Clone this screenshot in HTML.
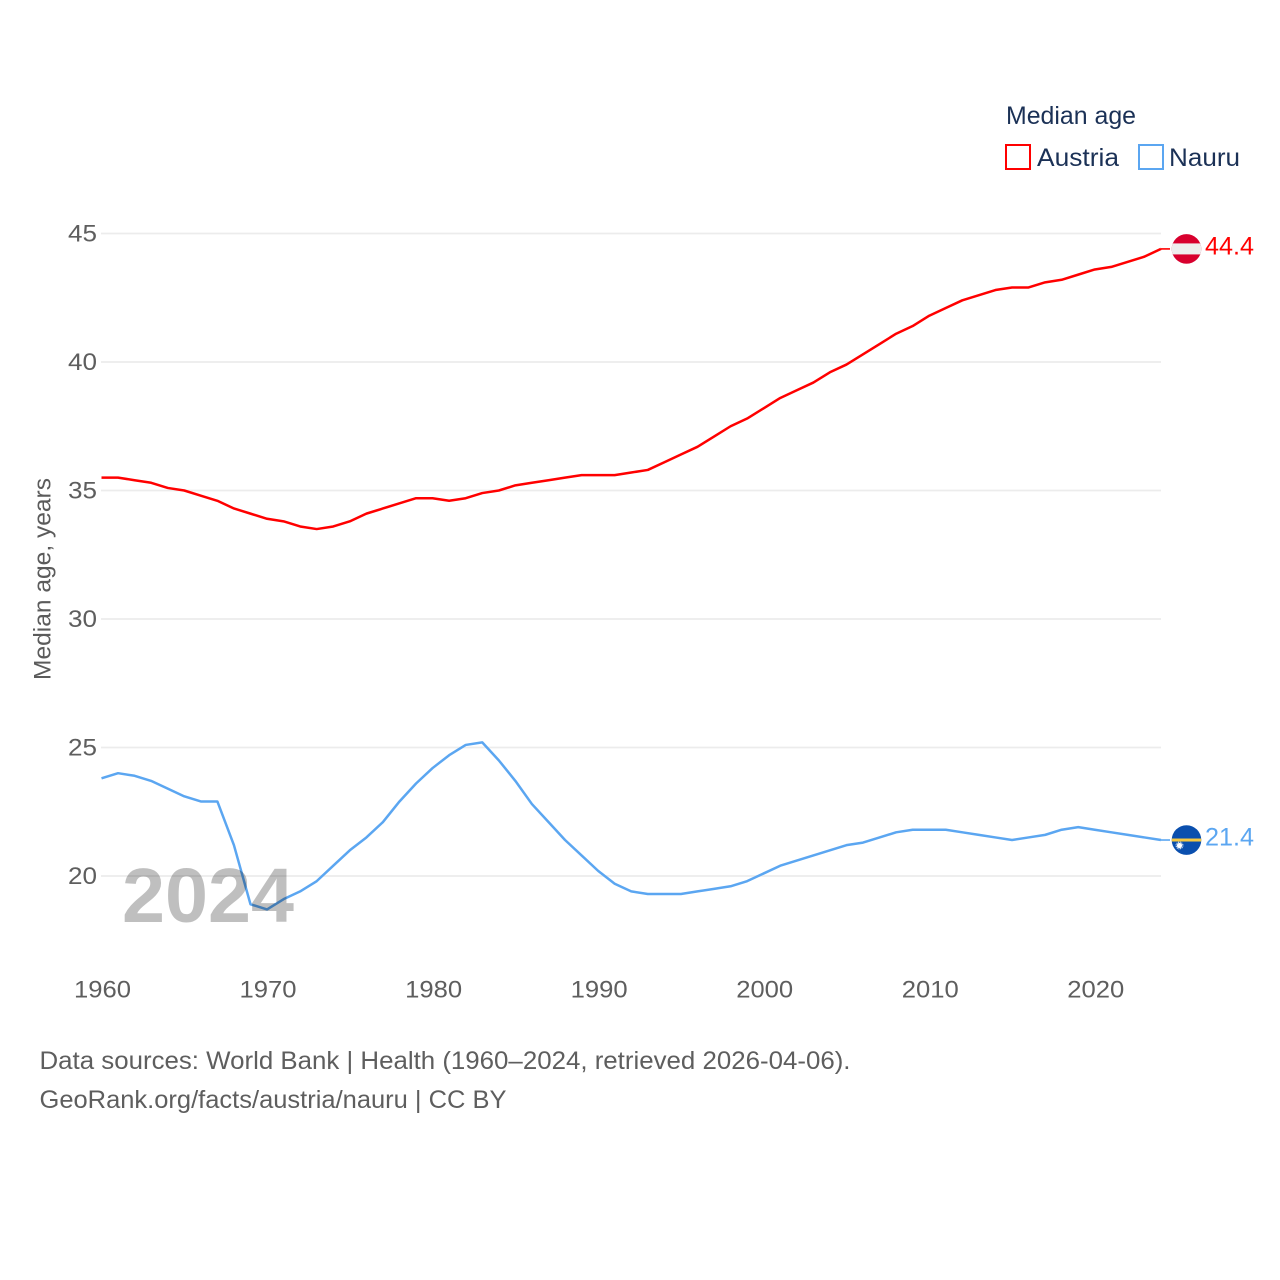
<!DOCTYPE html>
<html lang="en">
<head>
<meta charset="utf-8">
<title>Median age: Austria and Nauru</title>
<style>
html,body{margin:0;padding:0;background:#fff}
svg{display:block}
text{font-family:"Liberation Sans",sans-serif}
</style>
</head>
<body>
<svg id="chart" xmlns="http://www.w3.org/2000/svg" width="1280" height="1280" viewBox="0 0 1280 1280">
  <rect width="1280" height="1280" fill="#fff"/>
  <g id="grid"></g>
  <g id="yticks"></g>
  <g id="xticks"></g>
  <text transform="translate(50.5,680) rotate(-90)" font-size="24" fill="#5b5b5b" textLength="202" lengthAdjust="spacingAndGlyphs">Median age, years</text>
  <g id="series"></g>
  <g id="ends"></g>
  <text x="122" y="922" font-size="77" font-weight="700" fill="#000" fill-opacity="0.25" textLength="172" lengthAdjust="spacingAndGlyphs">2024</text>
  <g>
    <text x="1006" y="124" font-size="25" fill="#1b3156" textLength="130" lengthAdjust="spacingAndGlyphs">Median age</text>
    <rect x="1006" y="145" width="24" height="24" fill="#fff" stroke="#ff0000" stroke-width="2"/>
    <text x="1037" y="166" font-size="25" fill="#1b3156" textLength="82" lengthAdjust="spacingAndGlyphs">Austria</text>
    <rect x="1139" y="145" width="24" height="24" fill="#fff" stroke="#5ba6f1" stroke-width="2"/>
    <text x="1169" y="166" font-size="25" fill="#1b3156" textLength="71" lengthAdjust="spacingAndGlyphs">Nauru</text>
  </g>
  <g>
    <text x="39.5" y="1069" font-size="25" fill="#5e5e5e" textLength="811" lengthAdjust="spacingAndGlyphs">Data sources: World Bank | Health (1960–2024, retrieved 2026-04-06).</text>
    <text x="39.5" y="1108" font-size="25" fill="#5e5e5e" textLength="467" lengthAdjust="spacingAndGlyphs">GeoRank.org/facts/austria/nauru | CC BY</text>
  </g>
</svg>
<script>
const years = [1960,1961,1962,1963,1964,1965,1966,1967,1968,1969,1970,1971,1972,1973,1974,1975,1976,1977,1978,1979,1980,1981,1982,1983,1984,1985,1986,1987,1988,1989,1990,1991,1992,1993,1994,1995,1996,1997,1998,1999,2000,2001,2002,2003,2004,2005,2006,2007,2008,2009,2010,2011,2012,2013,2014,2015,2016,2017,2018,2019,2020,2021,2022,2023,2024];
const austria = [35.5,35.5,35.4,35.3,35.1,35.0,34.8,34.6,34.3,34.1,33.9,33.8,33.6,33.5,33.6,33.8,34.1,34.3,34.5,34.7,34.7,34.6,34.7,34.9,35.0,35.2,35.3,35.4,35.5,35.6,35.6,35.6,35.7,35.8,36.1,36.4,36.7,37.1,37.5,37.8,38.2,38.6,38.9,39.2,39.6,39.9,40.3,40.7,41.1,41.4,41.8,42.1,42.4,42.6,42.8,42.9,42.9,43.1,43.2,43.4,43.6,43.7,43.9,44.1,44.4];
const nauru = [23.8,24.0,23.9,23.7,23.4,23.1,22.9,22.9,21.2,18.9,18.7,19.1,19.4,19.8,20.4,21.0,21.5,22.1,22.9,23.6,24.2,24.7,25.1,25.2,24.5,23.7,22.8,22.1,21.4,20.8,20.2,19.7,19.4,19.3,19.3,19.3,19.4,19.5,19.6,19.8,20.1,20.4,20.6,20.8,21.0,21.2,21.3,21.5,21.7,21.8,21.8,21.8,21.7,21.6,21.5,21.4,21.5,21.6,21.8,21.9,21.8,21.7,21.6,21.5,21.4];
const yTickLabels = [20,25,30,35,40,45];
const xTickLabels = [1960,1970,1980,1990,2000,2010,2020];

const NS = 'http://www.w3.org/2000/svg';
const xScale = function (year) { return 101.5 + (year - 1960) * (1161 - 101.5) / 64; };
const yScale = function (value) { return 876 - (value - 20) * (876 - 233.5) / 25; };

function make(tag, attrs, parent, content) {
  const el = document.createElementNS(NS, tag);
  Object.keys(attrs).forEach(function (k) { el.setAttribute(k, attrs[k]); });
  if (content !== undefined) el.textContent = content;
  parent.appendChild(el);
  return el;
}

const grid = document.getElementById('grid');
const yticks = document.getElementById('yticks');
const xticks = document.getElementById('xticks');
const series = document.getElementById('series');
const ends = document.getElementById('ends');

yTickLabels.forEach(function (v) {
  const line = make('line', {x1: 101, x2: 1161, y1: yScale(v), y2: yScale(v), stroke: '#ececec', 'stroke-width': 1.8}, grid);
  
  
  const label = make('text', {x: 97, y: yScale(v) + 8, 'text-anchor': 'end', 'font-size': 24, fill: '#5e5e5e', textLength: 29, lengthAdjust: 'spacingAndGlyphs'}, yticks, String(v));
  
  
});

xTickLabels.forEach(function (y) {
  const label = make('text', {x: xScale(y) + 1, y: 997.5, 'text-anchor': 'middle', 'font-size': 24, fill: '#5e5e5e', textLength: 57, lengthAdjust: 'spacingAndGlyphs'}, xticks, String(y));
  
  
});

function pathFor(values) {
  return values.map(function (v, i) {
    return (i ? 'L' : 'M') + xScale(years[i]).toFixed(2) + ' ' + yScale(v).toFixed(2);
  }).join(' ');
}

const austriaLine = make('path', {d: pathFor(austria), fill: 'none', stroke: '#ff0000', 'stroke-width': 2.5, 'stroke-linejoin': 'round'}, series);



const nauruLine = make('path', {d: pathFor(nauru), fill: 'none', stroke: '#5ba6f1', 'stroke-width': 2.5, 'stroke-linejoin': 'round'}, series);



function endMarker(values, color) {
  const last = values[values.length - 1];
  const y = yScale(last);
  const g = make('g', {transform: 'translate(0,' + y.toFixed(2) + ')'}, ends);
  make('line', {x1: 1161, x2: 1170, y1: 0, y2: 0, stroke: color, 'stroke-width': 1.6}, g);
  make('text', {x: 1205, y: 5.5, 'font-size': 25, fill: color, textLength: 49, lengthAdjust: 'spacingAndGlyphs'}, g, last.toFixed(1));
  return g;
}

const austriaEnd = endMarker(austria, '#ff0000');


const nauruEnd = endMarker(nauru, '#5ba6f1');



const defs = make('defs', {}, ends);
const clip = make('clipPath', {id: 'flag-clip'}, defs);
make('circle', {cx: 0, cy: 0, r: 14.8}, clip);

const flagAustria = make('g', {transform: 'translate(1186.5,' + yScale(austria[austria.length - 1]).toFixed(2) + ')', 'clip-path': 'url(#flag-clip)'}, ends);


make('rect', {x: -15, y: -15, width: 30, height: 30, fill: '#d8002e'}, flagAustria);
make('rect', {x: -15, y: -5.5, width: 30, height: 11, fill: '#eeeeee'}, flagAustria);

const flagNauru = make('g', {transform: 'translate(1186.5,' + yScale(nauru[nauru.length - 1]).toFixed(2) + ')', 'clip-path': 'url(#flag-clip)'}, ends);


make('rect', {x: -15, y: -15, width: 30, height: 30, fill: '#0a4fae'}, flagNauru);
make('rect', {x: -15, y: -1.5, width: 30, height: 3, fill: '#f5c842'}, flagNauru);
make('circle', {cx: -7, cy: 5.5, r: 2.6, fill: '#ffffff'}, flagNauru);
make('circle', {cx: -7, cy: 5.5, r: 3.4, fill: 'none', stroke: '#ffffff', 'stroke-width': 1, 'stroke-dasharray': '1 0.8'}, flagNauru);
</script>
</body>
</html>
